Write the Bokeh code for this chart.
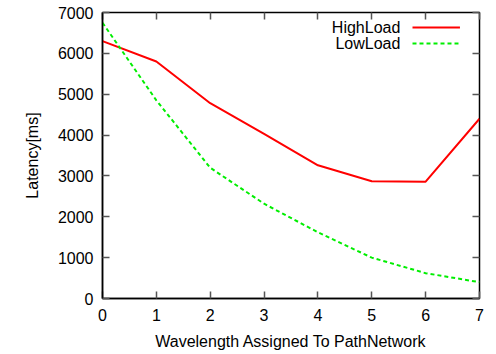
from bokeh.plotting import figure
from bokeh.models import Range1d, LinearAxis, FixedTicker, Label, Arrow
from bokeh.embed import file_html
from bokeh.resources import INLINE

# ---- data ----
wavelengths = [0, 1, 2, 3, 4, 5, 6, 7]
high_load = [6300, 5800, 4780, 4030, 3260, 2870, 2860, 4400]
low_load = [6750, 4850, 3200, 2320, 1620, 1000, 620, 400]
x_ticks = [0, 1, 2, 3, 4, 5, 6, 7]
y_ticks = [0, 1000, 2000, 3000, 4000, 5000, 6000, 7000]
series_names = ["HighLoad", "LowLoad"]
series_colors = ["#ff0000", "#00ee00"]

FONT = "Liberation Sans"
FS = "16px"

p = figure(width=496, height=354, output_backend="svg", toolbar_location=None,
           x_range=Range1d(0, 7), y_range=Range1d(0, 7000),
           min_border_left=102, min_border_right=17, min_border_top=12, min_border_bottom=56)
p.grid.visible = False
p.outline_line_color = "black"
p.outline_line_width = 1.5
p.background_fill_color = "white"
p.border_fill_color = "white"

for ax in (p.xaxis[0], p.yaxis[0]):
    ax.major_tick_in = 7
    ax.major_tick_out = 0
    ax.minor_tick_line_color = None
    ax.major_tick_line_color = "#555555"
    ax.major_tick_line_width = 1.5
    ax.axis_line_color = "black"
    ax.axis_line_width = 1.5
    ax.major_label_text_font = FONT
    ax.major_label_text_font_size = FS
    ax.major_label_text_color = "black"
    ax.axis_label_text_font = FONT
    ax.axis_label_text_font_size = FS
    ax.axis_label_text_font_style = "normal"
    ax.axis_label_text_color = "black"

p.xaxis[0].ticker = FixedTicker(ticks=x_ticks)
p.yaxis[0].ticker = FixedTicker(ticks=y_ticks)
p.xaxis[0].major_label_standoff = 10
p.yaxis[0].major_label_standoff = 9
p.xaxis[0].axis_label = "Wavelength Assigned To PathNetwork"
p.yaxis[0].axis_label = "Latency[ms]"
p.xaxis[0].axis_label_standoff = 9
p.yaxis[0].axis_label_standoff = 14

# mirrored ticks on top and right (no labels)
top = LinearAxis(ticker=FixedTicker(ticks=x_ticks))
right = LinearAxis(ticker=FixedTicker(ticks=y_ticks))
for ax, ticks in ((top, x_ticks), (right, y_ticks)):
    ax.major_tick_in = 7
    ax.major_tick_out = 0
    ax.minor_tick_line_color = None
    ax.major_tick_line_color = "#555555"
    ax.major_tick_line_width = 1.5
    ax.axis_line_color = None
    ax.major_label_overrides = {t: "" for t in ticks}
    ax.major_label_standoff = 0
p.add_layout(top, "above")
p.add_layout(right, "right")

p.line(wavelengths, high_load, line_color=series_colors[0], line_width=2)
p.line(wavelengths, low_load, line_color=series_colors[1], line_width=2, line_dash="4 3")

# gnuplot-style key: text left of sample
key_text_x = 5.53
key_line_x0, key_line_x1 = 5.756, 6.637
key_y = [6633, 6241]
dashes = ["solid", "4 3"]
for name, color, ky, dash in zip(series_names, series_colors, key_y, dashes):
    p.add_layout(Label(x=key_text_x, y=ky, text=name, text_align="right", text_baseline="middle",
                       text_font=FONT, text_font_size=FS, text_color="black"))
    p.add_layout(Arrow(end=None, x_start=key_line_x0, y_start=ky, x_end=key_line_x1, y_end=ky,
                       line_color=color, line_width=2, line_dash=dash))

open("out.html", "w").write(file_html(p, INLINE))
